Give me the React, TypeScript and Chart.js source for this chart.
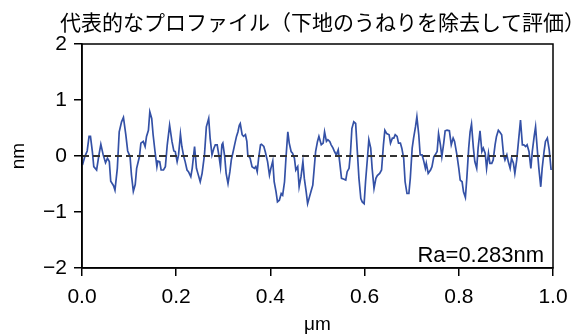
import { useEffect, useRef } from 'react';
import { Chart, registerables } from 'chart.js';

Chart.register(...registerables);

const titleText = '代表的なプロファイル（下地のうねりを除去して評価）';
const xAxisTitle = 'μm';
const yAxisTitle = 'nm';
const raLabel = 'Ra=0.283nm';

const xTicks = [0, 0.2, 0.4, 0.6, 0.8, 1.0];
const yTicks = [-2, -1, 0, 1, 2];

const profileX = [
  0.001, 0.006, 0.011, 0.015, 0.018, 0.022, 0.025, 0.031, 0.036, 0.040, 0.045, 0.050, 0.054, 0.058, 0.061, 0.067, 0.070, 0.075, 0.079, 0.084,
  0.088, 0.093, 0.097, 0.102, 0.105, 0.109, 0.113, 0.116, 0.122, 0.125, 0.130, 0.134, 0.137, 0.141, 0.144, 0.148, 0.151, 0.155, 0.159,
  0.161, 0.165, 0.168, 0.173, 0.177, 0.181, 0.186, 0.191, 0.195, 0.198, 0.202, 0.205, 0.209, 0.212, 0.216, 0.219, 0.223, 0.226, 0.231, 0.234,
  0.239, 0.243, 0.246, 0.251, 0.255, 0.260, 0.264, 0.269, 0.272, 0.276, 0.280, 0.283, 0.287, 0.291, 0.294, 0.297, 0.299, 0.303, 0.306, 0.310,
  0.314, 0.317, 0.321, 0.324, 0.328,
  0.331, 0.334, 0.336, 0.340, 0.343, 0.347, 0.350, 0.352, 0.357, 0.361, 0.366, 0.369, 0.372, 0.375, 0.379, 0.381, 0.386, 0.389, 0.394, 0.398,
  0.401, 0.405, 0.408, 0.412, 0.415, 0.419, 0.423, 0.426, 0.430, 0.433, 0.437, 0.440, 0.444, 0.447, 0.451, 0.454, 0.458, 0.461, 0.465, 0.469,
  0.472, 0.476, 0.479, 0.483, 0.486, 0.490, 0.493,
  0.496, 0.500, 0.503, 0.508, 0.512, 0.515, 0.519, 0.522, 0.526, 0.529, 0.533, 0.536, 0.540, 0.544, 0.547, 0.551, 0.555, 0.560, 0.563, 0.567,
  0.570, 0.573, 0.577, 0.581, 0.585, 0.588, 0.592, 0.595, 0.599, 0.602, 0.606, 0.609, 0.613, 0.616, 0.620, 0.624, 0.627, 0.632, 0.636, 0.640,
  0.643, 0.647, 0.652, 0.655, 0.659,
  0.662, 0.665, 0.669, 0.672, 0.676, 0.679, 0.683, 0.686, 0.690, 0.694, 0.697, 0.701, 0.704, 0.708, 0.711, 0.715, 0.718, 0.722, 0.725, 0.729,
  0.731, 0.735, 0.740, 0.743, 0.747, 0.750, 0.754, 0.757, 0.761, 0.764, 0.768, 0.771, 0.775, 0.780, 0.784, 0.788, 0.791, 0.796, 0.800, 0.803,
  0.807, 0.810, 0.814, 0.817, 0.821, 0.824,
  0.827, 0.831, 0.834, 0.838, 0.841, 0.845, 0.849, 0.852, 0.856, 0.859, 0.863, 0.866, 0.870, 0.873, 0.877, 0.880, 0.884, 0.887, 0.891, 0.895,
  0.898, 0.902, 0.905, 0.909, 0.912, 0.916, 0.919, 0.923, 0.926, 0.931, 0.935, 0.938, 0.942, 0.945, 0.949, 0.953, 0.956, 0.960, 0.963, 0.967,
  0.970, 0.974, 0.977, 0.981, 0.984, 0.988, 0.992, 0.996,
];

const profileY = [
  -0.16, -0.01, 0.09, 0.35, 0.35, 0.08, -0.19, -0.25, 0.02, 0.21, 0.02, -0.12, -0.04, -0.10, -0.45, -0.53, -0.61, -0.22, 0.43, 0.61,
  0.69, 0.38, 0.09, -0.01, -0.34, -0.63, -0.51, -0.22, -0.01, 0.23, 0.26, 0.17, 0.35, 0.46, 0.79, 0.67, 0.38, 0.08, -0.19,
  -0.09, -0.10, -0.25, -0.25, -0.19, 0.20, 0.55, 0.26, 0.09, 0.08, -0.10, 0.02, 0.39, 0.17, -0.01, -0.10, -0.25, -0.28, -0.37, -0.22,
  0.17, -0.22, -0.31, -0.46, -0.31, 0.02, 0.52, 0.67, 0.32, 0.02, 0.14, 0.20, 0.20, -0.01, -0.19, 0.20, 0.23, -0.01, -0.31, -0.49,
  -0.28, -0.07, 0.08, 0.20, 0.35,
  0.43, 0.55, 0.58, 0.38, 0.35, 0.38, 0.26, 0.02, -0.04, -0.19, -0.22, -0.19, -0.28, -0.04, 0.20, 0.21, 0.17, 0.08, -0.10, -0.34,
  -0.22, -0.09, -0.46, -0.64, -0.82, -0.79, -0.67, -0.70, -0.46, -0.04, 0.43, 0.23, 0.08, 0.05, -0.04, -0.25, -0.19, -0.55, -0.37, -0.10,
  -0.40, -0.64, -0.85, -0.73, -0.64, -0.52, -0.22,
  0.08, 0.26, 0.35, 0.20, 0.23, 0.43, 0.26, 0.29, 0.26, 0.20, 0.14, 0.08, 0.02, 0.11, -0.10, -0.40, -0.41, -0.43, -0.28, -0.22,
  0.05, 0.49, 0.61, 0.58, 0.02, -0.40, -0.76, -0.82, -0.85, -0.46, -0.04, 0.29, 0.14, -0.22, -0.58, -0.40, -0.35, -0.31, -0.25, 0.20,
  0.46, 0.40, 0.38, 0.23, 0.32,
  0.32, 0.38, 0.35, 0.23, 0.23, 0.14, -0.04, -0.46, -0.67, -0.67, -0.40, 0.14, 0.32, 0.52, 0.70, 0.38, 0.02, 0.02, -0.07, -0.22,
  -0.13, -0.31, -0.25, -0.19, -0.01, 0.02, 0.08, 0.40, 0.20, -0.01, 0.23, 0.45, 0.46, 0.45, 0.20, 0.32, 0.26, 0.02, -0.22, -0.43,
  -0.46, -0.64, -0.74, -0.40, 0.14, 0.43,
  0.57, 0.14, -0.10, -0.22, 0.14, 0.45, 0.08, 0.14, 0.05, -0.22, 0.05, -0.13, -0.13, -0.07, 0.20, 0.35, 0.46, 0.43, 0.38, 0.02,
  -0.07, 0.02, -0.10, -0.22, -0.04, -0.13, -0.31, -0.07, 0.20, 0.64, 0.20, 0.20, 0.17, 0.20, 0.08, -0.22, 0.08, 0.35, 0.52, 0.08,
  -0.22, -0.55, -0.22, 0.08, 0.26, 0.32, 0.11, -0.25,
];

const zeroLineX = [0, 1];
const zeroLineY = [0, 0];

const LATIN = '"Liberation Sans", Arial, sans-serif';
const CJK = '"Noto Sans CJK JP", "Noto Sans CJK SC", sans-serif';

const overlayPlugin = {
  id: 'overlay',
  afterDraw(chart: any) {
    const { ctx, chartArea: a } = chart;
    ctx.save();
    ctx.strokeStyle = '#000';
    ctx.lineWidth = 1.5;
    ctx.strokeRect(a.left, a.top, a.right - a.left, a.bottom - a.top);
    ctx.fillStyle = '#000';
    ctx.font = '21px ' + CJK;
    ctx.textAlign = 'left';
    ctx.textBaseline = 'middle';
    ctx.fillText(titleText, a.left - 22, 22);
    ctx.font = '22px ' + LATIN;
    ctx.textAlign = 'right';
    ctx.textBaseline = 'alphabetic';
    ctx.fillText(raLabel, a.right - 9, a.bottom - 6);
    ctx.restore();
  },
};

export default function App() {
  const ref = useRef<HTMLCanvasElement>(null);

  useEffect(() => {
    if (!ref.current) return;
    const chart = new Chart(ref.current, {
      type: 'line',
      data: {
        datasets: [
          {
            data: zeroLineX.map((x, i) => ({ x, y: zeroLineY[i] })),
            borderColor: '#333333',
            borderWidth: 2.2,
            borderDash: [7, 4],
            pointRadius: 0,
            fill: false,
          },
          {
            data: profileX.map((x, i) => ({ x, y: profileY[i] })),
            borderColor: '#3451a6',
            borderWidth: 1.7,
            pointRadius: 0,
            tension: 0,
            fill: false,
          },
        ],
      },
      options: {
        animation: false,
        responsive: false,
        devicePixelRatio: 1,
        layout: { padding: { left: 0, right: 34, top: 44, bottom: 0 } },
        plugins: {
          legend: { display: false },
          tooltip: { enabled: false },
          title: { display: false },
        },
        scales: {
          x: {
            type: 'linear',
            min: 0,
            max: 1,
            afterBuildTicks: (s: any) => {
              s.ticks = xTicks.map((v) => ({ value: v }));
            },
            afterFit: (s: any) => {
              s.height = 66;
            },
            ticks: {
              callback: (v: any) => Number(v).toFixed(1),
              font: { family: LATIN, size: 21 },
              color: '#000',
              padding: 9,
              maxRotation: 0,
              autoSkip: false,
            },
            grid: { drawOnChartArea: false, drawTicks: true, tickLength: 8, color: '#000', lineWidth: 1.5 },
            border: { display: true, color: '#000', width: 1.5 },
            title: {
              display: true,
              text: xAxisTitle,
              font: { family: LATIN, size: 19 },
              color: '#000',
              padding: { top: 0, bottom: -2 },
            },
          },
          y: {
            type: 'linear',
            min: -2,
            max: 2,
            afterBuildTicks: (s: any) => {
              s.ticks = yTicks.map((v) => ({ value: v }));
            },
            afterFit: (s: any) => {
              s.width = 82;
            },
            ticks: {
              callback: (v: any) => (Number(v) < 0 ? '\u2212' + Math.abs(Number(v)) : String(v)),
              font: { family: LATIN, size: 21 },
              color: '#000',
              padding: 7,
            },
            grid: { drawOnChartArea: false, drawTicks: true, tickLength: 8, color: '#000', lineWidth: 1.5 },
            border: { display: true, color: '#000', width: 1.5 },
            title: {
              display: true,
              text: yAxisTitle,
              font: { family: LATIN, size: 19 },
              color: '#000',
              padding: { top: 7, bottom: 0 },
            },
          },
        },
      } as any,
      plugins: [overlayPlugin],
    });
    return () => chart.destroy();
  }, []);

  return (
    <div style={{ position: 'absolute', left: 0, top: 0, width: 587, height: 334, background: '#fff' }}>
      <canvas ref={ref} width={587} height={334} />
    </div>
  );
}
